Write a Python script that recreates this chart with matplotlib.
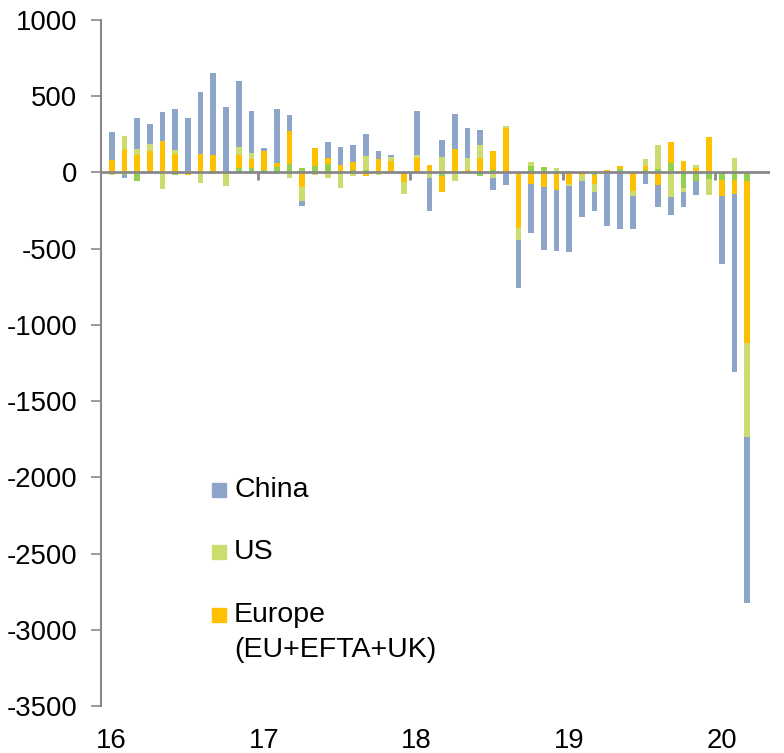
import numpy as np
import matplotlib
matplotlib.use("Agg")
import matplotlib.pyplot as plt
from matplotlib.patches import Rectangle

plt.rcParams['font.family'] = ['Liberation Sans', 'DejaVu Sans']

# Monthly data Jan 2016 .. Mar 2020
months = [f"{y}-{m:02d}" for y in range(2016, 2021) for m in range(1, 13)][:51]

other = [0, -20, -59, 0, 0, -20, 7, 0, 0, 0, 28, 28,
         18, 33, 55, 28, 39, 55, 11, 18, 18, 0, 0, 0,
         0, 0, -22, 0, 0, -22, 15, 0, 0, 44, 35, 0,
         11, 0, -18, -11, 20, 0, 15, 20, 59, -103, -57, -42,
         -48, -48, -55]
europe = [83, 155, 112, 138, 208, 118, -20, 120, 116, 0, 88, 59,
          125, 31, 219, -98, 120, 42, 37, 48, -26, 88, 77, -63,
          94, 48, -107, 153, 15, 94, 123, 289, -365, -74, -98, -114,
          -74, -15, -61, 18, 24, -120, 28, -85, 140, 74, 31, 230,
          -109, -96, -1065]
us = [-15, 85, 42, 50, -109, 31, 0, -66, -10, -92, 53, 39,
      0, -13, -39, -88, -15, -39, -105, -26, 90, -15, 24, -77,
      18, -35, 103, -57, 83, 88, -39, 18, -77, 22, 0, 26,
      -13, -44, -46, 0, 0, -35, 42, 159, -162, -26, 18, -109,
      0, 96, -614]
china = [182, -15, 201, 129, 188, 267, 350, 407, 538, 427, 431, 274,
         18, 354, 101, -37, 0, 101, 118, 114, 144, 55, 15, 0,
         289, -221, 112, 232, 193, 98, -79, -81, -315, -322, -409, -400,
         -438, -234, -131, -339, -372, -217, -79, -142, -118, -96, -90, 0,
         -442, -1168, -1089]

year_labels = ["16", "17", "18", "19", "20"]
yticks = list(range(-3500, 1001, 500))

series = [
    ("_other", other, "#92D050"),
    ("Europe\n(EU+EFTA+UK)", europe, "#FFC000"),
    ("US", us, "#CCDC6E"),
    ("China", china, "#8DA5C8"),
]

W, H = 784, 753
fig = plt.figure(figsize=(W/100, H/100), dpi=100)
ax = fig.add_axes([101/W, 1-706/H, 669/W, 686/H])

x = np.arange(len(months))
pos_base = np.zeros(len(months))
neg_base = np.zeros(len(months))
for name, vals, col in series:
    v = np.array(vals, dtype=float)
    p = np.where(v > 0, v, 0)
    n = np.where(v < 0, v, 0)
    ax.bar(x, p, width=0.45, bottom=pos_base, color=col, edgecolor='none', zorder=2)
    ax.bar(x, n, width=0.45, bottom=neg_base, color=col, edgecolor='none', zorder=2)
    pos_base += p
    neg_base += n

ax.set_xlim(-0.84, 51.8)
ax.set_ylim(-3500, 1000)

# zero line with year boundary ticks
ax.axhline(0, color='#898989', lw=2, zorder=3)
for b in np.arange(11.5, len(months), 12):
    ax.plot([b, b], [0, -50], color='#898989', lw=2, zorder=3, solid_capstyle='butt')

ax.set_yticks(yticks)
ax.set_yticklabels([str(t) for t in yticks], fontsize=19.8)
ax.tick_params(axis='y', direction='out', length=7, width=1.2, color='#898989', pad=10)

ax.set_xticks(np.arange(0, len(months), 12)[:len(year_labels)])
ax.set_xticklabels(year_labels, fontsize=19.8)
ax.tick_params(axis='x', length=0, pad=16)

for s in ['top', 'right', 'bottom']:
    ax.spines[s].set_visible(False)
ax.spines['left'].set_color('#898989')
ax.spines['left'].set_linewidth(1.5)

# Legend (manual, to match the original layout)
legend_items = [(n, c) for n, v, c in series[::-1] if not n.startswith('_')]
legend_y = [490, 552, 615]
line_gap = 35
for (name, col), yc in zip(legend_items, legend_y):
    fig.patches.append(Rectangle((212/W, 1-(yc+7)/H), 14/W, 14/H, color=col,
                                 transform=fig.transFigure, figure=fig))
    for k, line in enumerate(name.split("\n")):
        fig.text(234/W, 1-(yc+k*line_gap)/H, line, fontsize=20.5, va='center', ha='left')

fig.savefig("out.png", dpi=100)
